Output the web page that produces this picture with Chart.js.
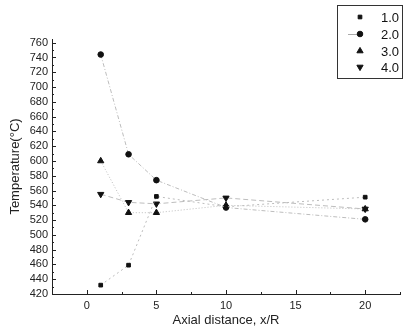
<!DOCTYPE html>
<html><head><meta charset="utf-8">
<script src="https://cdn.jsdelivr.net/npm/chart.js@4.4.1/dist/chart.umd.min.js"></script>
<style>html,body{margin:0;padding:0;background:#fff}#wrap{width:405px;height:334px}</style>
</head><body><div id="wrap"><canvas id="c" width="405" height="334"></canvas></div>
<script>
const xValues = [1, 3, 5, 10, 20];
const seriesNames = ['1.0', '2.0', '3.0', '4.0'];
const s1 = [432, 459, 552, 538, 551];
const s2 = [744, 609, 574, 537, 521];
const s3 = [600, 530, 530, 540, 535];
const s4 = [555, 544, 542, 550, 535];
const yTicks = [420,440,460,480,500,520,540,560,580,600,620,640,660,680,700,720,740,760];
const xTicks = [0, 5, 10, 15, 20];

const FONT = '"Liberation Sans", Arial, sans-serif';
const styles = [
  {pointStyle:'rect', radius:2.6, rot:0, dash:[2,3]},
  {pointStyle:'circle', radius:2.8, rot:0, dash:[4,2,1,2]},
  {pointStyle:'triangle', radius:3.6, rot:0, dash:[1,2]},
  {pointStyle:'triangle', radius:3.6, rot:180, dash:[5,3]}
];
const allSeries = [s1, s2, s3, s4];
const datasets = allSeries.map((s, i) => ({
  label: seriesNames[i],
  data: xValues.map((x, j) => ({x: x, y: s[j]})),
  showLine: true,
  borderColor: '#bdbdbd',
  borderWidth: 1,
  borderDash: styles[i].dash,
  pointStyle: styles[i].pointStyle,
  pointRadius: styles[i].radius,
  pointRotation: styles[i].rot,
  pointBackgroundColor: '#111',
  pointBorderColor: '#111',
  pointBorderWidth: 1,
  tension: 0
}));

const axesPlugin = {
  id: 'axesTicks',
  afterDatasetsDraw(chart) {
    const ctx = chart.ctx, a = chart.chartArea;
    const xs = chart.scales.x, ys = chart.scales.y;
    ctx.save();
    ctx.setLineDash([]);
    ctx.strokeStyle = '#222';
    ctx.lineWidth = 1;
    ctx.beginPath();
    for (let v = 420; v <= 760; v += 10) {
      const y = Math.round(ys.getPixelForValue(v)) + 0.5;
      const len = (v % 20 === 0) ? 4 : 2;
      ctx.moveTo(a.left, y); ctx.lineTo(a.left + len, y);
    }
    for (let k = -1; k <= 9; k++) {
      const v = k * 2.5;
      const x = Math.round(xs.getPixelForValue(v)) + 0.5;
      const len = (k % 2 === 0) ? 4 : 2;
      ctx.moveTo(x, a.bottom); ctx.lineTo(x, a.bottom - len);
    }
    ctx.stroke();
    ctx.restore();
  }
};

const legendPlugin = {
  id: 'legendBox',
  afterDraw(chart) {
    const ctx = chart.ctx;
    ctx.save();
    ctx.setLineDash([]);
    ctx.strokeStyle = '#333';
    ctx.lineWidth = 1;
    ctx.strokeRect(337.5, 5.5, 65, 73);
    const rows = [17, 34, 51, 67];
    chart.data.datasets.forEach((ds, i) => {
      const y = rows[i];
      if (i === 1) {
        ctx.strokeStyle = '#aaa';
        ctx.beginPath(); ctx.moveTo(348, y + 0.5); ctx.lineTo(357, y + 0.5); ctx.stroke();
      }
      ctx.fillStyle = '#111';
      ctx.strokeStyle = '#111';
      Chart.helpers.drawPoint(ctx, {pointStyle: ds.pointStyle, rotation: ds.pointRotation, radius: ds.pointRadius, borderWidth: 1}, 360, y);
      ctx.font = '13px ' + FONT;
      ctx.textAlign = 'right';
      ctx.textBaseline = 'middle';
      ctx.fillStyle = '#111';
      ctx.fillText(ds.label, 399, y + 1);
    });
    ctx.restore();
  }
};

new Chart(document.getElementById('c'), {
  type: 'line',
  data: {datasets: datasets},
  options: {
    responsive: false,
    animation: false,
    devicePixelRatio: 1,
    layout: {padding: {top: 39, right: 1, left: 0, bottom: 0}},
    plugins: {legend: {display: false}, tooltip: {enabled: false}},
    scales: {
      x: {
        type: 'linear', min: -2.5, max: 22.5,
        grid: {display: false, drawTicks: false},
        border: {display: true, color: '#222', width: 1},
        afterBuildTicks: s => { s.ticks = xTicks.map(v => ({value: v})); },
        afterFit: s => { s.height = 40; },
        ticks: {color: '#222', font: {family: FONT, size: 11}, padding: 5, maxRotation: 0, autoSkip: false},
        title: {display: true, text: 'Axial distance, x/R', color: '#222', font: {family: FONT, size: 13}, padding: {top: 2, bottom: 6}}
      },
      y: {
        type: 'linear', min: 420, max: 765,
        grid: {display: false, drawTicks: false},
        border: {display: true, color: '#222', width: 1},
        afterBuildTicks: s => { s.ticks = yTicks.map(v => ({value: v})); },
        afterFit: s => { s.width = 52; },
        ticks: {color: '#222', font: {family: FONT, size: 11}, padding: 4, autoSkip: false},
        title: {display: true, text: 'Temperature(°C)', color: '#222', font: {family: FONT, size: 13}, padding: {top: 8, bottom: 2}}
      }
    }
  },
  plugins: [axesPlugin, legendPlugin]
});
</script>
</body></html>
